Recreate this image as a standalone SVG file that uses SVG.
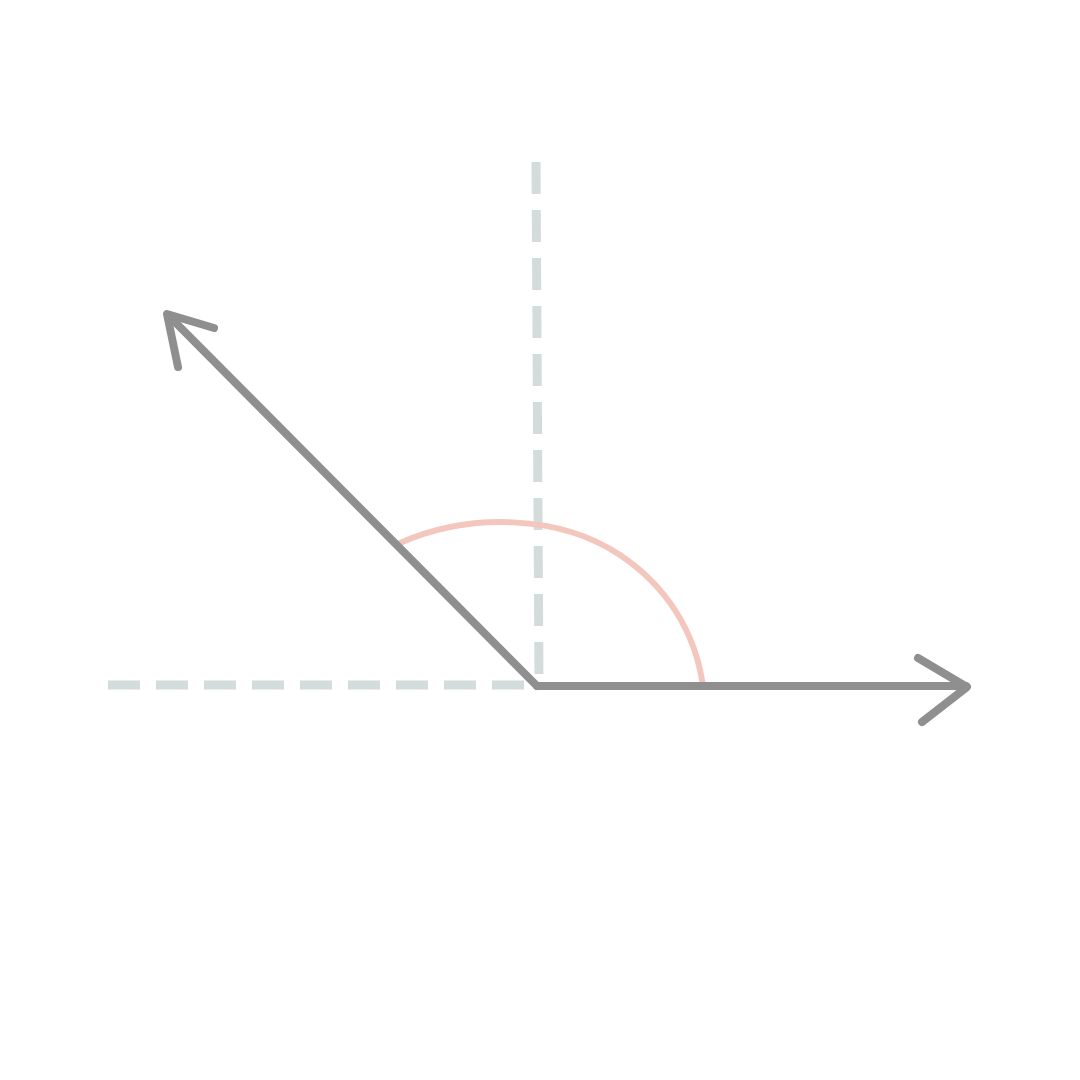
<svg xmlns="http://www.w3.org/2000/svg" width="1080" height="1080" viewBox="0 0 1080 1080">
<style>
.guide{fill:none;stroke:#d3dcdb;stroke-width:9;stroke-dasharray:32 16}
.ray{fill:none;stroke:#8f8f8f;stroke-width:8;stroke-linecap:round;stroke-linejoin:round}
.angle{fill:none;stroke:#f3c7bd;stroke-width:6;stroke-linecap:round}
</style>
<rect width="1080" height="1080" fill="#ffffff"/>
<g id="guides">
<line class="guide" x1="108" y1="685" x2="534" y2="685"/>
<line class="guide" x1="536" y1="162" x2="539" y2="684"/>
</g>
<g id="angle-arc">
<path class="angle" d="M400,543 C470,512 560,515 620,555 C665,585 695,630 703,686"/>
</g>
<g id="connectors">
<path class="ray" d="M537,686 L966,686"/>
<path class="ray" d="M918,658 L967,687 L922,722"/>
<path class="ray" d="M537,686 L169,316"/>
<path class="ray" d="M214,328 L167,314 L178,367"/>
</g>
</svg>
